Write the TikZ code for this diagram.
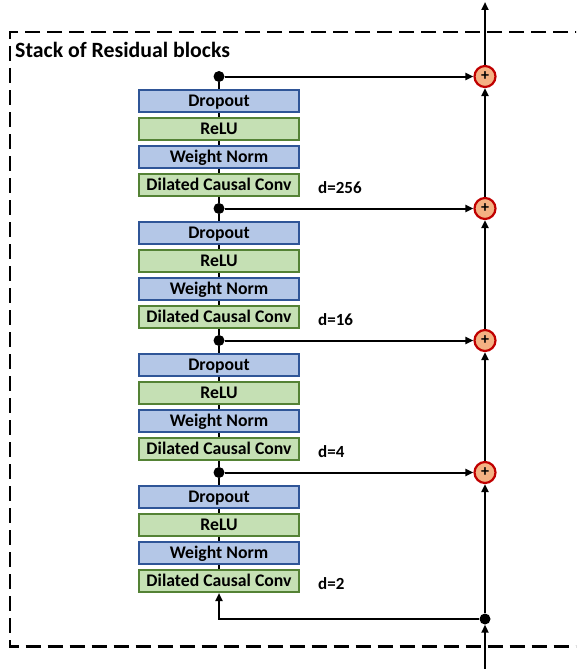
\documentclass[tikz,border=0pt]{standalone}
\usepackage{fontspec}
\setmainfont{Carlito}
\usetikzlibrary{arrows.meta}
\definecolor{bfill}{HTML}{B4C7E7}
\definecolor{bdraw}{HTML}{2F5597}
\definecolor{gfill}{HTML}{C5E0B4}
\definecolor{gdraw}{HTML}{548235}
\definecolor{pfill}{HTML}{F4B183}
\definecolor{pdraw}{HTML}{C00000}
\tikzset{
  layer/.style={minimum width=160pt, minimum height=22pt, inner sep=0pt, line width=2pt,
    text height=11.3pt, text depth=0pt,
    font=\fontsize{17.7}{20}\selectfont\bfseries},
  bluebox/.style={layer, draw=bdraw, fill=bfill},
  greenbox/.style={layer, draw=gdraw, fill=gfill},
  junction/.style={circle, fill=black, inner sep=0pt, minimum size=11pt},
  adder/.style={circle, draw=pdraw, fill=pfill, line width=2.2pt, inner sep=0pt, minimum size=21pt,
    font=\fontsize{16}{16}\selectfont\bfseries},
  conn/.style={line width=2pt, black},
  arr/.style={conn, -{Triangle[length=8pt, width=7pt]}},
  dlabel/.style={anchor=west, inner sep=0pt, font=\fontsize{17}{20}\selectfont\bfseries},
}
\begin{document}
\begin{tikzpicture}[x=1pt, y=-1pt]
\useasboundingbox (0,0) rectangle (576,669);
\clip (0,0) rectangle (576,669);
% dashed frame
\draw[line width=2.2pt, dash pattern=on 15pt off 7pt] (590,32) -- (10,32) -- (10,646.5) -- (590,646.5);
\node[anchor=west, inner sep=0pt, font=\fontsize{21.8}{24}\selectfont\bfseries] (title) at (15,49.5) {Stack of Residual blocks};
% blocks
\foreach \k/\d in {1/256,2/16,3/4,4/2}{
  \pgfmathsetmacro{\yy}{101+132*(\k-1)}
  \node[bluebox] (drop\k) at (219,\yy) {Dropout};
  \node[greenbox] (relu\k) at (219,\yy+28) {ReLU};
  \node[bluebox] (wn\k) at (219,\yy+56) {Weight Norm};
  \node[greenbox] (dcc\k) at (219,\yy+84) {Dilated Causal Conv};
  \node[dlabel] (dl\k) at (318,\yy+87) {d=\d};
  \node[junction] (dot\k) at (219,\yy-24.5) {};
  \node[adder] (add\k) at (485,\yy-24.5) {+};
}
\node[junction] (bdot) at (485,619) {};
\coordinate (input) at (485,675);
\coordinate (output) at (485,2);
% vertical chains
\foreach \k in {1,2,3,4}{
  \draw[conn] (dot\k) -- (drop\k.north);
  \draw[conn] (drop\k) -- (relu\k);
  \draw[conn] (relu\k) -- (wn\k);
  \draw[conn] (wn\k) -- (dcc\k);
  \draw[arr] (dot\k) -- (add\k);
}
\draw[conn] (dcc1.south) -- (dot2);
\draw[conn] (dcc2.south) -- (dot3);
\draw[conn] (dcc3.south) -- (dot4);
% residual path on the right
\draw[arr] (input) -- (bdot.south);
\draw[arr] (bdot) -| (dcc4.south);
\draw[arr] (bdot) -- (add4);
\draw[arr] (add4) -- (add3);
\draw[arr] (add3) -- (add2);
\draw[arr] (add2) -- (add1);
\draw[arr] (add1) -- (output);
\end{tikzpicture}
\end{document}
